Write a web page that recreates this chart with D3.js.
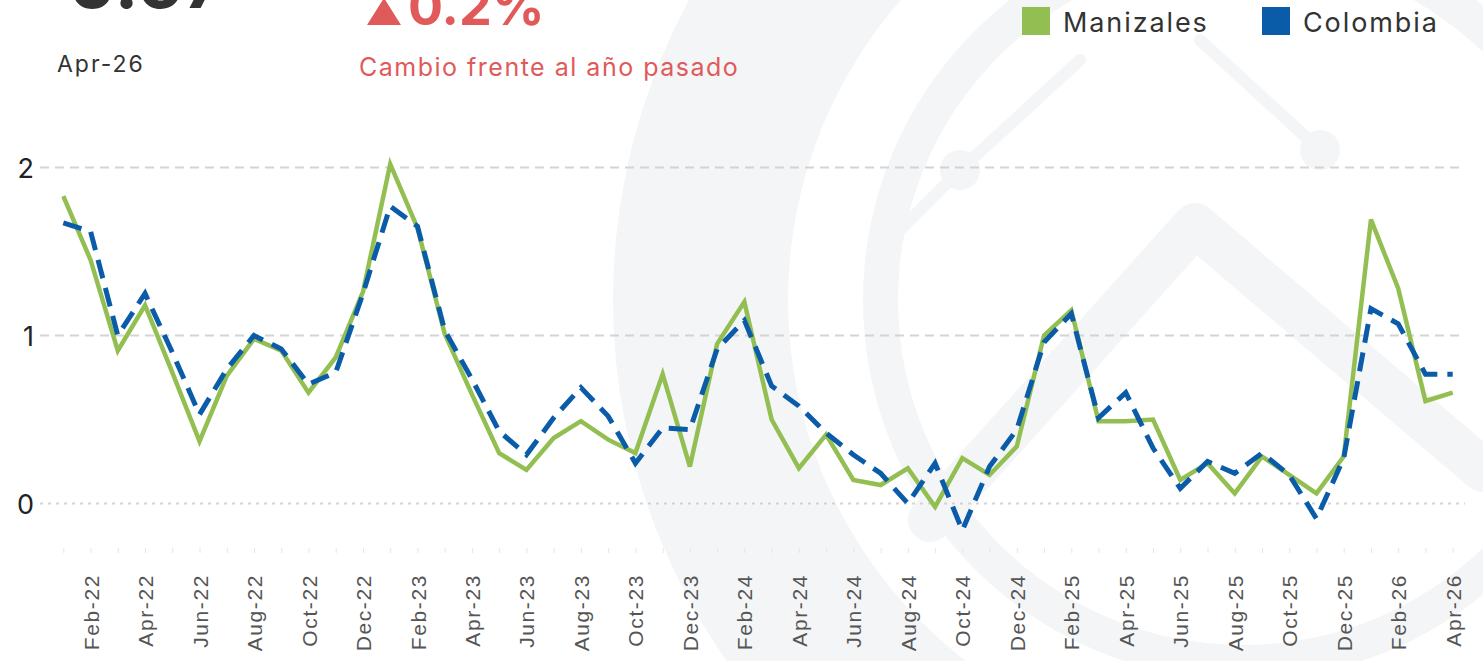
<!DOCTYPE html>
<html>
<head>
<meta charset="utf-8">
<script src="https://cdn.jsdelivr.net/npm/d3@7"></script>
<style>
  body { margin: 0; background: #fff; }
  svg { display: block; }
</style>
</head>
<body>
<div id="chart"></div>
<script>
const W = 1483, H = 661;

// months shown on the x axis (Jan-22 .. Apr-26)
const months = ["Jan-22","Feb-22","Mar-22","Apr-22","May-22","Jun-22","Jul-22","Aug-22","Sep-22","Oct-22","Nov-22","Dec-22",
  "Jan-23","Feb-23","Mar-23","Apr-23","May-23","Jun-23","Jul-23","Aug-23","Sep-23","Oct-23","Nov-23","Dec-23",
  "Jan-24","Feb-24","Mar-24","Apr-24","May-24","Jun-24","Jul-24","Aug-24","Sep-24","Oct-24","Nov-24","Dec-24",
  "Jan-25","Feb-25","Mar-25","Apr-25","May-25","Jun-25","Jul-25","Aug-25","Sep-25","Oct-25","Nov-25","Dec-25",
  "Jan-26","Feb-26","Mar-26","Apr-26"];

const manizales = [1.83, 1.45, 0.91, 1.18, 0.78, 0.37, 0.76, 0.98, 0.91, 0.66,
  0.87, 1.26, 2.02, 1.64, 1.01, 0.65, 0.30, 0.20, 0.39, 0.49,
  0.38, 0.30, 0.77, 0.22, 0.95, 1.20, 0.50, 0.21, 0.41, 0.14,
  0.11, 0.21, -0.02, 0.27, 0.17, 0.34, 1.00, 1.15, 0.49, 0.49,
  0.50, 0.14, 0.24, 0.06, 0.28, 0.17, 0.06, 0.28, 1.69, 1.28,
  0.61, 0.66];

const colombia = [1.67, 1.62, 1.00, 1.25, 0.90, 0.53, 0.80, 1.00, 0.92, 0.71,
  0.78, 1.25, 1.77, 1.65, 1.03, 0.74, 0.43, 0.29, 0.51, 0.69,
  0.52, 0.24, 0.45, 0.44, 0.92, 1.09, 0.70, 0.58, 0.42, 0.29,
  0.18, 0.00, 0.24, -0.16, 0.22, 0.44, 0.96, 1.13, 0.51, 0.66,
  0.33, 0.09, 0.25, 0.18, 0.30, 0.17, -0.09, 0.27, 1.16, 1.07,
  0.77, 0.77];

const yTicks = [0, 1, 2];
const xTickLabels = months.filter((d, i) => i % 2 == 1); // Feb, Apr, ...

const seriesNames = ["Manizales", "Colombia"];
const seriesColors = ["#93bf52", "#0b5ca8"];

const headline = "0.67";
const changeText = "0.2%";
const periodText = "Apr-26";
const changeLabel = "Cambio frente al año pasado";

const font = "Inter, 'Noto Sans', sans-serif";

var svg = d3.select("#chart").append("svg")
    .attr("width", W)
    .attr("height", H);

// faint watermark logo in the background
var wm = svg.append("g").attr("fill", "#f4f5f7").attr("stroke", "none");
wm.append("path")
    .attr("transform", "translate(1243,300)")
    .attr("d", d3.arc()({innerRadius: 455, outerRadius: 630, startAngle: 0, endAngle: 2 * Math.PI}));
wm.append("path")
    .attr("transform", "translate(1243,300)")
    .attr("d", d3.arc()({innerRadius: 345, outerRadius: 380, startAngle: 0, endAngle: 2 * Math.PI}));
var wmLines = svg.append("g").attr("stroke", "#f4f5f7").attr("fill", "none")
    .attr("stroke-linecap", "round").attr("stroke-linejoin", "round");
wmLines.append("polyline").attr("stroke-width", 44)
    .attr("points", "930,520 1195,225 1483,470");
wmLines.append("polyline").attr("stroke-width", 12)
    .attr("points", "900,230 960,170 1080,60");
wmLines.append("polyline").attr("stroke-width", 12)
    .attr("points", "1200,40 1320,150");
wm.append("circle").attr("cx", 960).attr("cy", 170).attr("r", 20);
wm.append("circle").attr("cx", 1320).attr("cy", 150).attr("r", 20);

// scales
var xScale = d3.scalePoint().domain(months).range([63.3, 1452.7]);
var yScale = d3.scaleLinear().domain([0, 2]).range([503.5, 167.5]);

// grid lines
svg.append("g").selectAll("line").data(yTicks).enter().append("line")
    .attr("x1", 40).attr("x2", 1465)
    .attr("y1", d => yScale(d)).attr("y2", d => yScale(d))
    .attr("stroke", "#d4d4d4")
    .attr("stroke-width", 2)
    .attr("stroke-dasharray", d => d == 0 ? "3,5" : "9,6");

// y labels
svg.append("g").selectAll("text").data(yTicks).enter().append("text")
    .attr("x", 34).attr("y", d => yScale(d) + 10)
    .attr("text-anchor", "end")
    .attr("font-family", font)
    .attr("font-size", 27)
    .attr("fill", "#222")
    .text(d => d);

// x axis: a faint tick per month, labels every two months
var xAxis = d3.axisBottom(xScale)
    .tickSizeOuter(0)
    .tickSize(5)
    .tickFormat(d => xTickLabels.includes(d) ? d : "");
var gx = svg.append("g")
    .attr("class", "x axis")
    .attr("transform", "translate(0,548)")
    .call(xAxis);
gx.select(".domain").remove();
gx.selectAll(".tick line").attr("stroke", "#e6e6e6");
gx.selectAll(".tick text")
    .attr("font-family", "'Liberation Sans', Arial, sans-serif")
    .attr("font-size", 21)
    .attr("letter-spacing", "1.6px")
    .attr("fill", "#555")
    .style("text-anchor", "end")
    .attr("dx", "-26px")
    .attr("dy", "0.36em")
    .attr("y", 0)
    .attr("x", 0)
    .attr("transform", "rotate(-90)");

// lines
var line = d3.line()
    .x((d, i) => xScale(months[i]))
    .y(d => yScale(d));

svg.append("path")
    .datum(manizales)
    .attr("fill", "none")
    .attr("stroke", seriesColors[0])
    .attr("stroke-width", 4.5)
    .attr("d", line);

svg.append("path")
    .datum(colombia)
    .attr("fill", "none")
    .attr("stroke", seriesColors[1])
    .attr("stroke-width", 5)
    .attr("stroke-dasharray", "19,10")
    .attr("d", line);

// legend
var legend = svg.append("g").selectAll("g").data(seriesNames).enter().append("g")
    .attr("transform", (d, i) => "translate(" + (i == 0 ? 1022 : 1262) + ",7)");
legend.append("rect")
    .attr("width", 28).attr("height", 28)
    .attr("fill", (d, i) => seriesColors[i]);
legend.append("text")
    .attr("x", 41).attr("y", 25)
    .attr("font-family", font)
    .attr("font-size", 27)
    .attr("letter-spacing", "1.9px")
    .attr("fill", "#333")
    .text(d => d);

// header texts (partly cut at the top, as in the original)
svg.append("text")
    .attr("x", 68).attr("y", 8)
    .attr("font-family", font)
    .attr("font-weight", 700)
    .attr("font-size", 72)
    .attr("fill", "#333")
    .text(headline);

svg.append("path")
    .attr("d", "M367,25 L384,-2 L401,25 Z")
    .attr("fill", "#e05a5a");
svg.append("text")
    .attr("x", 408).attr("y", 25)
    .attr("font-family", font)
    .attr("font-weight", 700)
    .attr("font-size", 52)
    .attr("fill", "#e05a5a")
    .text(changeText);

svg.append("text")
    .attr("x", 57).attr("y", 72)
    .attr("font-family", font)
    .attr("font-size", 23)
    .attr("letter-spacing", "2px")
    .attr("fill", "#333")
    .text(periodText);

svg.append("text")
    .attr("x", 359).attr("y", 76)
    .attr("font-family", font)
    .attr("font-size", 25)
    .attr("letter-spacing", "1.5px")
    .attr("fill", "#e05a5a")
    .text(changeLabel);
</script>
</body>
</html>
